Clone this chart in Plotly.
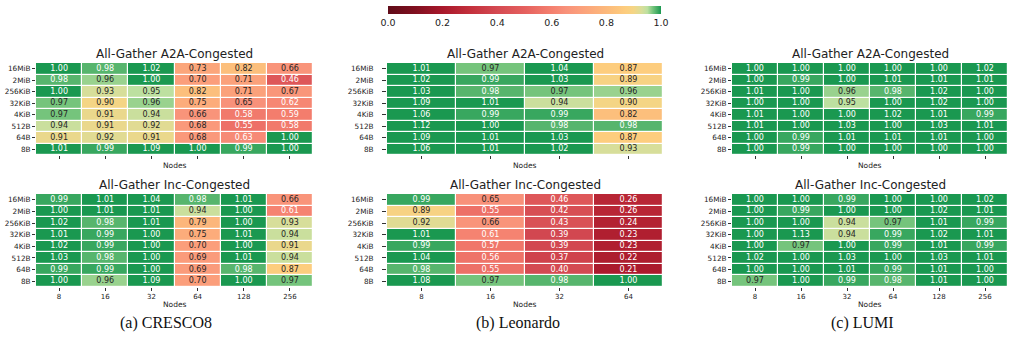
import plotly.graph_objects as go

# ---------------- data ----------------
sizes = ["16MiB", "2MiB", "256KiB", "32KiB", "4KiB", "512B", "64B", "8B"]
nodes6 = ["8", "16", "32", "64", "128", "256"]
nodes4 = ["8", "16", "32", "64"]

cresco_a2a = [
    [1.00, 0.98, 1.02, 0.73, 0.82, 0.66],
    [0.98, 0.96, 1.00, 0.70, 0.71, 0.46],
    [1.00, 0.93, 0.95, 0.82, 0.71, 0.67],
    [0.97, 0.90, 0.96, 0.75, 0.65, 0.62],
    [0.97, 0.91, 0.94, 0.66, 0.58, 0.59],
    [0.94, 0.91, 0.92, 0.68, 0.55, 0.58],
    [0.91, 0.92, 0.91, 0.68, 0.63, 1.00],
    [1.01, 0.99, 1.09, 1.00, 0.99, 1.00],
]
cresco_inc = [
    [0.99, 1.01, 1.04, 0.98, 1.01, 0.66],
    [1.00, 1.01, 1.01, 0.94, 1.00, 0.61],
    [1.02, 0.98, 1.01, 0.79, 1.00, 0.93],
    [1.01, 0.99, 1.00, 0.75, 1.01, 0.94],
    [1.02, 0.99, 1.00, 0.70, 1.00, 0.91],
    [1.03, 0.98, 1.00, 0.69, 1.01, 0.94],
    [0.99, 0.99, 1.00, 0.69, 0.98, 0.87],
    [1.00, 0.96, 1.09, 0.70, 1.00, 0.97],
]
leonardo_a2a = [
    [1.01, 0.97, 1.04, 0.87],
    [1.02, 0.99, 1.03, 0.89],
    [1.03, 0.98, 0.97, 0.96],
    [1.09, 1.01, 0.94, 0.90],
    [1.06, 0.99, 0.99, 0.82],
    [1.12, 1.00, 0.98, 0.98],
    [1.09, 1.01, 1.03, 0.87],
    [1.06, 1.01, 1.02, 0.93],
]
leonardo_inc = [
    [0.99, 0.65, 0.46, 0.26],
    [0.89, 0.55, 0.42, 0.26],
    [0.92, 0.66, 0.43, 0.24],
    [1.01, 0.61, 0.39, 0.23],
    [0.99, 0.57, 0.39, 0.23],
    [1.04, 0.56, 0.37, 0.22],
    [0.98, 0.55, 0.40, 0.21],
    [1.08, 0.97, 0.98, 1.00],
]
lumi_a2a = [
    [1.00, 1.00, 1.00, 1.00, 1.00, 1.02],
    [1.00, 0.99, 1.00, 1.01, 1.01, 1.01],
    [1.01, 1.00, 0.96, 0.98, 1.02, 1.00],
    [1.00, 1.00, 0.95, 1.00, 1.02, 1.00],
    [1.01, 1.00, 1.00, 1.02, 1.01, 0.99],
    [1.01, 1.00, 1.03, 1.00, 1.03, 1.01],
    [1.00, 0.99, 1.01, 1.01, 1.01, 1.00],
    [1.00, 0.99, 1.00, 1.00, 1.00, 1.00],
]
lumi_inc = [
    [1.00, 1.00, 0.99, 1.00, 1.00, 1.02],
    [1.00, 0.99, 1.00, 1.00, 1.02, 1.01],
    [1.00, 1.00, 0.94, 0.97, 1.01, 0.99],
    [1.00, 1.13, 0.94, 0.99, 1.02, 1.01],
    [1.00, 0.97, 1.00, 0.99, 1.01, 0.99],
    [1.02, 1.00, 1.03, 1.00, 1.03, 1.01],
    [1.00, 1.00, 1.01, 0.99, 1.01, 1.00],
    [0.97, 1.00, 0.99, 0.98, 1.01, 1.00],
]

titles = ["All-Gather A2A-Congested", "All-Gather Inc-Congested"]
captions = ["(a) CRESCO8", "(b) Leonardo", "(c) LUMI"]

# ---------------- colours ----------------
stops = [
    (0.00, "#5f0c19"), (0.10, "#800f20"), (0.20, "#a8182b"), (0.30, "#c3303c"),
    (0.40, "#d44a52"), (0.50, "#e5605e"), (0.60, "#f4806f"), (0.65, "#f8917a"),
    (0.70, "#fb9e7b"), (0.80, "#fcb97b"), (0.87, "#fdcd7e"), (0.90, "#f4d585"),
    (0.93, "#d7de9a"), (0.95, "#bde0a0"), (0.97, "#75c47c"), (1.00, "#1a9850"),
]
colorscale = [[s, c] for s, c in stops]


def hex2rgb(h):
    h = h.lstrip("#")
    return [int(h[i:i + 2], 16) / 255 for i in (0, 2, 4)]


def color_at(v):
    v = min(max(v, 0.0), 1.0)
    for (s0, c0), (s1, c1) in zip(stops[:-1], stops[1:]):
        if s0 <= v <= s1:
            t = (v - s0) / (s1 - s0) if s1 > s0 else 0
            a, b = hex2rgb(c0), hex2rgb(c1)
            return [a[i] + (b[i] - a[i]) * t for i in range(3)]
    return hex2rgb(stops[-1][1])


def lum(rgb):
    lin = [c / 12.92 if c <= 0.03928 else ((c + 0.055) / 1.055) ** 2.4 for c in rgb]
    return 0.2126 * lin[0] + 0.7152 * lin[1] + 0.0722 * lin[2]


FONT = "DejaVu Sans"
W, H = 1014, 340

panels = [
    (cresco_a2a, nodes6, (36, 313), (63, 155), False, 0),
    (cresco_inc, nodes6, (36, 313), (194, 287), True, 1),
    (leonardo_a2a, nodes4, (387, 663), (63, 155), False, 0),
    (leonardo_inc, nodes4, (387, 663), (194, 287), True, 1),
    (lumi_a2a, nodes6, (732, 1008), (63, 155), False, 0),
    (lumi_inc, nodes6, (732, 1008), (194, 287), True, 1),
]

fig = go.Figure()
layout = {}
annotations = []

for i, (z, xc, (x0, x1), (y0, y1), bottom, tix) in enumerate(panels):
    k = i + 1
    xa, ya = f"x{k}", f"y{k}"
    fig.add_trace(go.Heatmap(
        z=z, x=xc, y=sizes, zmin=0, zmax=1, colorscale=colorscale,
        xgap=1.2, ygap=1.2, xaxis=xa, yaxis=ya, hoverinfo="skip",
        showscale=(i == 0),
        colorbar=dict(
            orientation="h", x=524.5 / W, xanchor="center", y=1 - 6 / H, yanchor="top",
            thickness=8, thicknessmode="pixels", len=273, lenmode="pixels",
            xpad=0, ypad=0, outlinewidth=0,
            tickvals=[0, 0.2, 0.4, 0.6, 0.8, 1.0], tickformat=".1f",
            ticks="", tickfont=dict(family=FONT, size=9.5, color="#222"),
        ) if i == 0 else None,
    ))
    xs, ys, ts, cs = [], [], [], []
    for r, row in enumerate(z):
        for c, v in enumerate(row):
            xs.append(xc[c])
            ys.append(sizes[r])
            ts.append(f"{v:.2f}")
            cs.append("#262626" if lum(color_at(v)) > 0.408 else "#ffffff")
    fig.add_trace(go.Scatter(
        x=xs, y=ys, text=ts, mode="text", xaxis=xa, yaxis=ya,
        textfont=dict(family=FONT, size=8, color=cs), hoverinfo="skip", showlegend=False,
    ))
    sfx = "" if k == 1 else str(k)
    layout["xaxis" + sfx] = dict(
        domain=[x0 / W, x1 / W], anchor=ya, type="category", categoryorder="array",
        categoryarray=xc, showgrid=False, zeroline=False, showline=False,
        ticks="outside", ticklen=3, tickwidth=0.8, tickcolor="#333",
        showticklabels=bottom, tickfont=dict(family=FONT, size=7, color="#222"),
    )
    layout["yaxis" + sfx] = dict(
        domain=[1 - y1 / H, 1 - y0 / H], anchor=xa, type="category",
        autorange="reversed", showgrid=False, zeroline=False, showline=False,
        ticks="outside", ticklen=3 if i < 2 or i > 3 else 4, tickwidth=0.8, tickcolor="#333",
        ticklabelstandoff=0 if (i < 2 or i > 3) else 7,
        tickfont=dict(family=FONT, size=7.3, color="#222"),
    )
    cx = (x0 + x1) / 2 / W
    annotations.append(dict(
        text=titles[tix], x=cx, y=1 - (y0 - 9) / H, xref="paper", yref="paper",
        xanchor="center", yanchor="middle", showarrow=False,
        font=dict(family=FONT, size=12, color="#222"),
    ))
    annotations.append(dict(
        text="Nodes", x=cx, y=1 - ((165 if not bottom else 304) / H), xref="paper", yref="paper",
        xanchor="center", yanchor="middle", showarrow=False,
        font=dict(family=FONT, size=7.5, color="#222"),
    ))

for cap, cxp in zip(captions, [166, 518, 862]):
    annotations.append(dict(
        text=cap, x=cxp / W, y=1 - 323 / H, xref="paper", yref="paper",
        xanchor="center", yanchor="middle", showarrow=False,
        font=dict(family="Liberation Serif", size=16, color="#111"),
    ))

fig.update_layout(
    width=W, height=H, margin=dict(l=0, r=0, t=0, b=0),
    paper_bgcolor="white", plot_bgcolor="white",
    showlegend=False, annotations=annotations, **layout,
)

fig.write_html("out.html")
